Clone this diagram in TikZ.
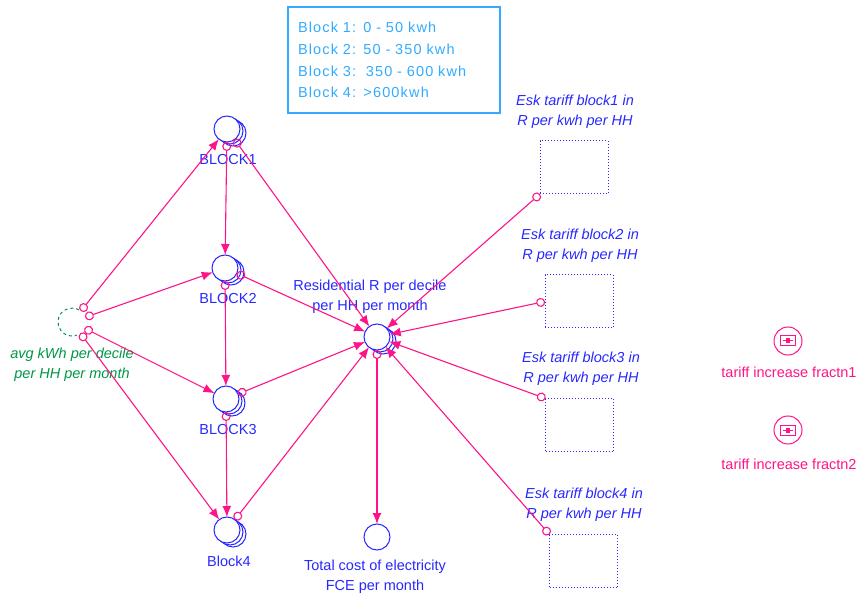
\documentclass[tikz,border=0pt]{standalone}
\usepackage{fontspec}
\setmainfont{Liberation Sans}
\newfontfamily\notefont[LetterSpace=8]{Liberation Sans}
\usepackage{xcolor}
\usetikzlibrary{arrows.meta,positioning,shadows}
\definecolor{vblue}{RGB}{40,40,255}
\definecolor{vpink}{RGB}{255,20,135}
\definecolor{vgreen}{RGB}{0,150,70}
\definecolor{vsky}{RGB}{50,170,255}

\begin{document}
\begin{tikzpicture}[x=1pt,y=-1pt,font=\fontsize{14.5}{20}\selectfont,
 aux/.style={circle,draw=vblue,line width=1pt,minimum size=26pt,inner sep=0pt,outer sep=0pt,fill=white},
 arr/.style={aux,double copy shadow={shadow xshift=3pt,shadow yshift=-2pt,draw=vblue,fill=white,line width=1pt}},
 txt/.style={align=center,text=vblue,inner sep=0pt},
 tab/.style={draw=vblue,dash pattern=on 1pt off 2pt,line width=1pt,minimum width=68pt,minimum height=53pt,inner sep=0pt,outer sep=0pt},
 link/.style={draw=vpink,line width=1.1pt,{Circle[open,length=9pt,width=9pt]}-{Latex[length=11pt,width=9pt]}},
 knob/.style={circle,draw=vpink,line width=1pt,minimum size=28pt,inner sep=0pt}]
\useasboundingbox (0,0) rectangle (863,596);

\node[draw=vsky,line width=1.5pt,text=vsky,align=left,text width=192pt,inner xsep=10pt,minimum height=106pt,font=\notefont\fontsize{14.5}{21.7}\selectfont] (info) at (394,60)
 {Block 1: 0 - 50 kwh\\Block 2: 50 - 350 kwh\\Block 3:\ \ 350 - 600 kwh\\Block 4: >600kwh};

\node[arr] (b1) at (227,129) {};
\node[arr] (b2) at (225,268) {};
\node[arr] (b3) at (226,399) {};
\node[arr] (b4) at (227,530) {};
\node[arr] (res) at (377,337) {};
\node[aux] (tot) at (377,537) {};
\node[circle,minimum size=28pt,inner sep=0pt,outer sep=0pt] (avg) at (72,322) {};
\draw[vgreen,dashed,line width=1pt] (avg.60) arc[start angle=60,end angle=290,radius=14pt];

\node[txt] (b1l) at (228,160) {BLOCK1};
\node[txt] (b2l) at (228,299) {BLOCK2};
\node[txt] (b3l) at (228,430) {BLOCK3};
\node[txt] (b4l) at (229,561) {Block4};
\node[txt] (resl) at (370,297) {Residential R per decile\\per HH per month};
\node[txt] (totl) at (375,577) {Total cost of electricity\\FCE per month};
\node[txt,text=vgreen,font=\itshape\fontsize{14.5}{20}\selectfont] (avgl) at (72,365) {avg kWh per decile\\per HH per month};

\node[tab] (e1) at (574,167.5) {};
\node[tab] (e2) at (579,301.5) {};
\node[tab] (e3) at (579.5,425) {};
\node[tab] (e4) at (583.5,561) {};
\node[txt,font=\itshape\fontsize{14.5}{20}\selectfont] (e1l) at (575,112) {Esk tariff block1 in\\R per kwh per HH};
\node[txt,font=\itshape\fontsize{14.5}{20}\selectfont] (e2l) at (580,246) {Esk tariff block2 in\\R per kwh per HH};
\node[txt,font=\itshape\fontsize{14.5}{20}\selectfont] (e3l) at (581,368.5) {Esk tariff block3 in\\R per kwh per HH};
\node[txt,font=\itshape\fontsize{14.5}{20}\selectfont] (e4l) at (584,504.5) {Esk tariff block4 in\\R per kwh per HH};

\node[knob] (tf1) at (788,341) {};
\node[knob] (tf2) at (788,430) {};
\foreach \t in {tf1,tf2}{
 \draw[vpink,line width=1pt] ([shift={(-7.5,-5)}]\t.center) rectangle ([shift={(7.5,5)}]\t.center);
 \draw[vpink,line width=1pt] ([xshift=-5pt]\t.center) -- ([xshift=5pt]\t.center);
 \fill[vpink] ([shift={(-2,-2.5)}]\t.center) rectangle ([shift={(2,2.5)}]\t.center);
}
\node[txt,text=vpink] (tf1l) at (789,372) {tariff increase fractn1};
\node[txt,text=vpink] (tf2l) at (789,464) {tariff increase fractn2};

\draw[link] (avg) -- (b1);
\draw[link] (avg) -- (b2);
\draw[link] (avg) -- (b3);
\draw[link] (avg) -- (b4);
\draw[link] (b1) -- (b2);
\draw[link] (b2) -- (b3);
\draw[link] (b3) -- (b4);
\draw[link] (b1) -- (res);
\draw[link] (b2) -- (res);
\draw[link] (b3) -- (res);
\draw[link] (b4) -- (res);
\draw[link] (e1.south west) -- (res);
\draw[link] (e2.west) -- (res);
\draw[link] (e3.north west) -- (res);
\draw[link] (e4.north west) -- (res);
\draw[link] (res) -- (tot);
\end{tikzpicture}
\end{document}
